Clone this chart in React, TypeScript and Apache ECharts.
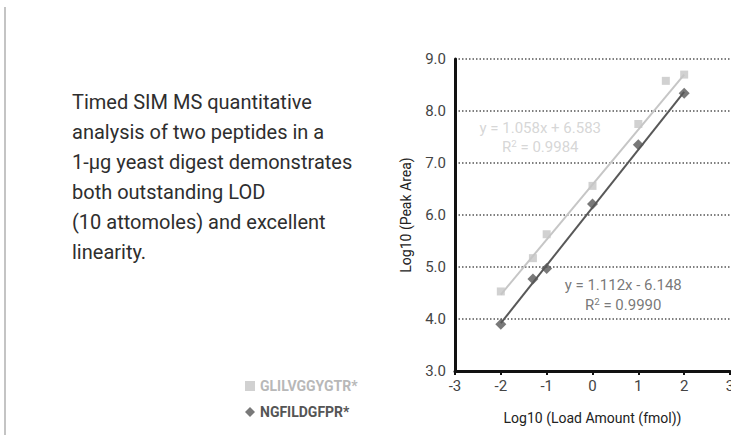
import React, { useEffect, useRef } from "react";
import * as echarts from "echarts";

const lightName = "GLILVGGYGTR*";
const darkName = "NGFILDGFPR*";

const lightPoints: [number, number][] = [
  [-2, 4.53],
  [-1.3, 5.17],
  [-1, 5.63],
  [0, 6.56],
  [1, 7.75],
  [1.6, 8.58],
  [2, 8.7],
];
const darkPoints: [number, number][] = [
  [-2, 3.9],
  [-1.3, 4.77],
  [-1, 4.97],
  [0, 6.21],
  [1, 7.35],
  [2, 8.34],
];
const lightFit: [number, number][] = [
  [-2, 4.47],
  [2, 8.7],
];
const darkFit: [number, number][] = [
  [-2, 3.92],
  [2, 8.37],
];

const lightEq = ["y = 1.058x + 6.583", "R{sup|2} = 0.9984"];
const darkEq = ["y = 1.112x - 6.148", "R{sup|2} = 0.9990"];
const lightEqPos: [number, number][] = [
  [-1.14, 7.67],
  [-1.14, 7.31],
];
const darkEqPos: [number, number][] = [
  [0.67, 4.65],
  [0.67, 4.27],
];

const descLines = [
  "Timed SIM MS quantitative",
  "analysis of two peptides in a",
  "1-\u00b5g yeast digest demonstrates",
  "both outstanding LOD",
  "(10 attomoles) and excellent",
  "linearity.",
];

const xTicks = { min: -3, max: 3, interval: 1 };
const yTicks = { min: 3, max: 9, interval: 1 };

const LIGHT = "#c6c6c6";
const DARK = "#585858";
const FONT = "Roboto, 'Liberation Sans', sans-serif";

export default function App() {
  const ref = useRef<HTMLDivElement>(null);
  useEffect(() => {
    document.body.style.margin = "0";
    const chart = echarts.init(ref.current!, null, { renderer: "svg" });
    const eqLabel = (color: string, size: number) => ({
      show: true,
      position: "inside",
      color,
      fontSize: size,
      fontFamily: FONT,
      formatter: (p: any) => p.data.text,
      rich: {
        sup: { fontSize: size * 0.65, verticalAlign: "top", color, padding: [0, 0, 6, 0], fontFamily: FONT },
      },
    });
    chart.setOption({
      animation: false,
      textStyle: { fontFamily: FONT },
      grid: { left: 455, right: 1, top: 59, bottom: 64, containLabel: false, outerBoundsMode: "none" },
      xAxis: {
        type: "value",
        min: xTicks.min,
        max: xTicks.max,
        interval: xTicks.interval,
        name: "Log10 (Load Amount (fmol))",
        nameLocation: "middle",
        nameGap: 40,
        nameTextStyle: { fontSize: 14, color: "#222", fontFamily: FONT },
        axisLine: { onZero: false, lineStyle: { color: "#111", width: 3 } },
        axisTick: { show: true, length: 4, lineStyle: { color: "#111", width: 2 } },
        axisLabel: { fontSize: 15, color: "#444", margin: 7, fontFamily: FONT },
        splitLine: { show: false },
      },
      yAxis: {
        type: "value",
        min: yTicks.min,
        max: yTicks.max,
        interval: yTicks.interval,
        name: "Log10 (Peak Area)",
        nameLocation: "middle",
        nameGap: 42,
        nameTextStyle: { fontSize: 14, color: "#222", fontFamily: FONT },
        axisLine: { onZero: false, lineStyle: { color: "#111", width: 3 } },
        axisTick: { show: false },
        axisLabel: {
          fontSize: 15,
          color: "#444",
          margin: 9,
          fontFamily: FONT,
          formatter: (v: number) => v.toFixed(1),
        },
        splitLine: { show: true, lineStyle: { color: "#555", width: 1.5, type: [1.5, 2] } },
      },
      legend: {
        orient: "vertical",
        left: 240,
        top: 374,
        itemGap: 12,
        itemWidth: 10,
        itemHeight: 10,
        textStyle: { fontSize: 14, fontWeight: "bold", fontFamily: FONT },
        data: [
          { name: lightName, icon: "rect", textStyle: { color: "#b8b8b8" } },
          { name: darkName, icon: "diamond", textStyle: { color: "#555" } },
        ],
      },
      graphic: [
        {
          type: "line",
          shape: { x1: 5, y1: 7, x2: 5, y2: 435 },
          style: { stroke: "#c4c4c4", lineWidth: 2 },
        },
        {
          type: "line",
          shape: { x1: 4, y1: 7, x2: 360, y2: 7 },
          style: {
            lineWidth: 2,
            stroke: new echarts.graphic.LinearGradient(0, 0, 1, 0, [
              { offset: 0, color: "rgba(90,90,90,0.95)" },
              { offset: 0.5, color: "rgba(150,150,150,0.6)" },
              { offset: 1, color: "rgba(200,200,200,0.15)" },
            ]),
          },
        },
        {
          type: "text",
          left: 72,
          top: 87,
          style: {
            text: descLines.join("\n"),
            fontSize: 20,
            lineHeight: 30,
            fill: "#2e2e2e",
            fontFamily: FONT,
          },
        },
      ],
      series: [
        {
          type: "line",
          data: lightFit,
          symbol: "none",
          lineStyle: { color: LIGHT, width: 2 },
          silent: true,
          z: 2,
        },
        {
          type: "line",
          data: darkFit,
          symbol: "none",
          lineStyle: { color: DARK, width: 2 },
          silent: true,
          z: 2,
        },
        {
          name: lightName,
          type: "scatter",
          data: lightPoints,
          symbol: "rect",
          symbolSize: 8,
          itemStyle: { color: LIGHT },
          z: 3,
        },
        {
          name: darkName,
          type: "scatter",
          data: darkPoints,
          symbol: "diamond",
          symbolSize: 11,
          itemStyle: { color: DARK },
          z: 3,
        },
        {
          type: "scatter",
          data: lightEq.map((t, i) => ({ value: lightEqPos[i], text: t })),
          symbolSize: 0,
          silent: true,
          label: eqLabel("#cccccc", 15),
        },
        {
          type: "scatter",
          data: darkEq.map((t, i) => ({ value: darkEqPos[i], text: t })),
          symbolSize: 0,
          silent: true,
          label: eqLabel("#555", 15),
        },
      ],
    });
    return () => chart.dispose();
  }, []);
  return <div ref={ref} style={{ width: 731, height: 435 }} />;
}
